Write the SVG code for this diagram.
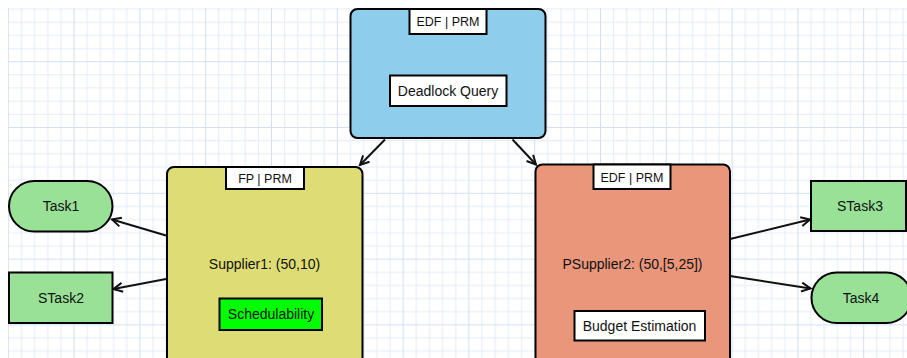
<svg xmlns="http://www.w3.org/2000/svg" width="907" height="358" viewBox="0 0 907 358">
  <style>
    .box { stroke: #000; stroke-width: 2; }
    .tab { fill: #fff; stroke: #000; stroke-width: 2; }
    .lbl { font-family: "Liberation Sans", Arial, sans-serif; font-size: 14px; fill: #111; text-anchor: middle; }
    .tl { font-size: 12.5px; }
    .edge { stroke: #111; stroke-width: 2; fill: none; marker-end: url(#arr); }
  </style>
  <defs>
    <pattern id="grid" patternUnits="userSpaceOnUse" x="7.8" y="-4.6" width="65.8" height="65.8">
      <g fill="#e3ecf8">
        <rect x="13.16" y="0" width="1" height="65.8"/>
        <rect x="26.32" y="0" width="1" height="65.8"/>
        <rect x="39.48" y="0" width="1" height="65.8"/>
        <rect x="52.64" y="0" width="1" height="65.8"/>
        <rect x="0" y="13.16" width="65.8" height="1"/>
        <rect x="0" y="26.32" width="65.8" height="1"/>
        <rect x="0" y="39.48" width="65.8" height="1"/>
        <rect x="0" y="52.64" width="65.8" height="1"/>
      </g>
      <g fill="#d2e0f3">
        <rect x="0" y="0" width="1" height="65.8"/>
        <rect x="0" y="0" width="65.8" height="1"/>
      </g>
    </pattern>
    <marker id="arr" markerUnits="userSpaceOnUse" viewBox="-11 -6 13 12" refX="0" refY="0" markerWidth="13" markerHeight="12" orient="auto">
      <path d="M-9,-4.5 L0,0 L-9,4.5" fill="none" stroke="#111" stroke-width="2"/>
    </marker>
  </defs>

  <rect x="0" y="0" width="907" height="358" fill="#fff"/>
  <rect x="8" y="8" width="899" height="350" fill="url(#grid)"/>

  <g id="connectors">
    <line class="edge" x1="385" y1="139.5" x2="360" y2="165"/>
    <line class="edge" x1="512.5" y1="139.5" x2="536" y2="164.5"/>
    <line class="edge" x1="166" y1="235.5" x2="112" y2="219.5"/>
    <line class="edge" x1="166" y1="279" x2="113.5" y2="289"/>
    <line class="edge" x1="730" y1="239" x2="810" y2="219.5"/>
    <line class="edge" x1="730" y1="276" x2="810.5" y2="288.5"/>
  </g>

  <g id="deadlock">
    <rect class="box" x="350.5" y="9" width="195" height="129" rx="7" fill="#8ecdec"/>
    <rect class="tab" x="409.5" y="9" width="77" height="25"/>
    <text class="lbl tl" x="448" y="26">EDF | PRM</text>
    <rect class="tab" x="390" y="75.5" width="116.5" height="30.5"/>
    <text class="lbl" x="448" y="95.5">Deadlock Query</text>
  </g>

  <g id="supplier1">
    <rect class="box" x="167" y="167" width="195.5" height="205" rx="7" fill="#dedc74"/>
    <rect class="tab" x="226" y="167" width="78" height="22"/>
    <text class="lbl tl" x="265" y="183">FP | PRM</text>
    <text class="lbl" x="264.5" y="269">Supplier1: (50,10)</text>
    <rect class="box" x="219.5" y="298.5" width="102.5" height="31.5" fill="#00ff00"/>
    <text class="lbl" x="271" y="319">Schedulability</text>
  </g>

  <g id="psupplier2">
    <rect class="box" x="535.5" y="164.5" width="194.5" height="210" rx="7" fill="#e9967a"/>
    <rect class="tab" x="593.5" y="164.5" width="77" height="24.5"/>
    <text class="lbl tl" x="632" y="182">EDF | PRM</text>
    <text class="lbl" x="632.5" y="269">PSupplier2: (50,[5,25])</text>
    <rect class="tab" x="574.5" y="311" width="130.5" height="29.5"/>
    <text class="lbl" x="639.5" y="330.5">Budget Estimation</text>
  </g>

  <g id="task1">
    <rect class="box" x="9" y="181" width="103.5" height="50.5" rx="25.25" fill="#98e197"/>
    <text class="lbl" x="61" y="211">Task1</text>
  </g>

  <g id="stask2">
    <rect class="box" x="9" y="272.5" width="103.5" height="50.5" fill="#98e197"/>
    <text class="lbl" x="61" y="302.5">STask2</text>
  </g>

  <g id="stask3">
    <rect class="box" x="811" y="181" width="95" height="50" fill="#98e197"/>
    <text class="lbl" x="860" y="211">STask3</text>
  </g>

  <g id="task4">
    <rect class="box" x="811.5" y="272.5" width="100" height="50.5" rx="25.25" fill="#98e197"/>
    <text class="lbl" x="861" y="302.5">Task4</text>
  </g>
</svg>
